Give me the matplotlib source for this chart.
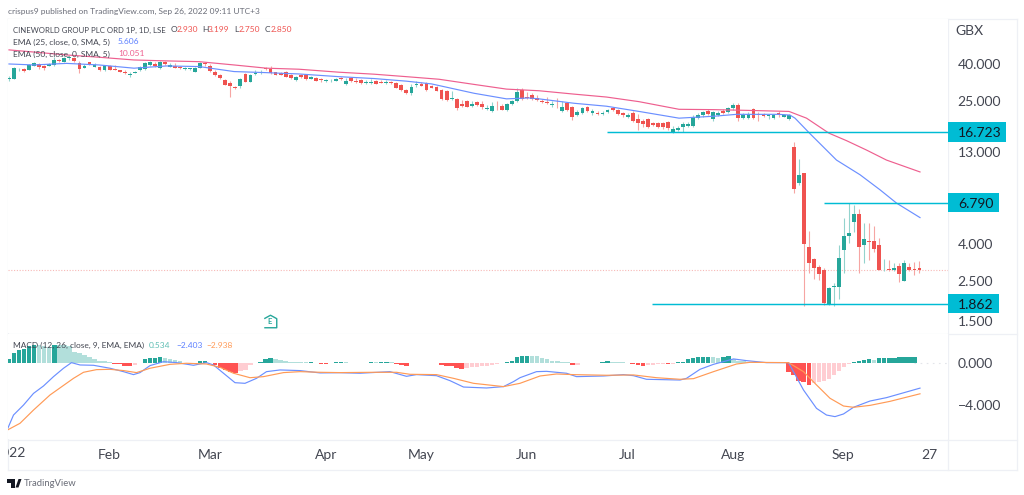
"""Cineworld daily candles with EMA and MACD panes, TradingView style."""

from __future__ import annotations

import matplotlib

matplotlib.use("Agg")
import matplotlib.pyplot as plt
import numpy as np
from matplotlib.lines import Line2D
from matplotlib.patches import Polygon, Rectangle
from matplotlib.ticker import NullLocator
from matplotlib.transforms import Bbox

W, H = 1024, 495

opens = [
    33.0, 33.1, 37.3, 37.3, 37.1, 39.2, 40.0, 39.2, 39.2, 39.5, 42.1, 41.2, 43.0, 43.0, 40.7, 38.0,
    40.8, 38.7, 38.7, 36.8, 39.0, 37.6, 36.8, 36.3, 34.8, 35.8, 36.8, 37.4, 39.4, 39.8, 38.0, 41.0,
    38.7, 39.0, 38.5, 37.4, 37.4, 36.3, 38.0, 40.3, 39.2, 36.3, 34.8, 32.6, 31.4, 29.9, 30.1, 35.2,
    31.9, 35.1, 35.5, 38.0, 37.6, 36.0, 35.8, 36.3, 34.6, 32.6, 34.8, 34.6, 33.2, 33.3, 32.9, 32.3,
    32.5, 32.2,
    33.3, 31.0, 33.6, 32.3, 32.6, 31.3, 31.3, 32.2, 31.8, 31.4, 31.7, 31.4, 30.5, 28.7, 27.6, 30.5,
    30.8, 31.2, 30.1, 29.7, 28.6, 28.3, 25.4, 25.5, 23.9, 25.0, 23.3, 24.6, 23.9, 22.5, 21.9, 22.6,
    23.5, 22.3, 24.0, 25.0, 28.7, 26.1, 26.8, 25.8, 25.0, 24.7, 23.8, 23.2, 21.8, 24.2, 23.0, 20.9,
    21.4, 23.0, 21.4, 21.3, 21.0, 21.6, 22.8, 22.3, 21.4, 20.3, 21.5, 19.7, 19.2, 19.7, 18.9, 18.7,
    18.7, 19.0, 16.8, 17.2,
    17.8, 18.0, 18.0, 20.0, 20.7, 21.8, 19.7, 20.9, 22.0, 21.7, 22.7, 23.7, 20.1, 20.1, 22.4, 21.1,
    21.0, 20.5, 20.1, 21.5, 20.4, 19.9,
    13.8, 8.77, 9.88, 3.85, 3.30, 2.97, 2.87, 1.86, 2.32, 2.32, 3.71, 4.45, 5.33, 5.9, 3.93, 4.14,
    4.14, 3.93, 2.85, 2.89, 2.86, 3.03, 2.50, 2.97, 2.89, 2.93,
]
highs = [
    34.2, 38.5, 38.2, 38.2, 39.9, 40.9, 40.5, 39.6, 40.4, 43.9, 42.5, 43.6, 44.5, 43.9, 41.4, 40.0,
    41.2, 40.3, 39.2, 39.2, 39.5, 39.4, 37.1, 36.8, 36.3, 36.6, 39.0, 41.0, 41.7, 40.8, 41.6, 41.4,
    40.5, 40.7, 39.0, 38.5, 38.2, 38.3, 41.2, 41.0, 40.0, 36.8, 35.2, 33.0, 32.0, 30.3, 33.6, 35.6,
    35.2, 37.0, 37.0, 38.5, 38.8, 36.3, 36.3, 36.6, 35.0, 34.2, 35.1, 35.0, 34.4, 33.8, 33.3, 33.0,
    33.2, 33.5,
    34.0, 33.5, 34.0, 33.4, 32.8, 32.4, 32.8, 32.4, 32.4, 32.6, 32.0, 31.7, 31.0, 29.0, 30.8, 32.0,
    31.8, 31.6, 30.4, 30.0, 29.0, 28.6, 28.2, 26.0, 25.2, 25.3, 24.9, 25.0, 25.0, 23.8, 24.6, 25.0,
    24.0, 24.3, 25.1, 29.3, 29.3, 28.0, 27.5, 27.0, 25.6, 26.2, 24.8, 26.0, 25.0, 24.5, 23.3, 22.2,
    23.1, 23.3, 22.5, 22.0, 22.0, 22.5, 23.0, 22.6, 21.7, 21.5, 21.8, 21.0, 19.8, 20.0, 19.1, 19.0,
    19.0, 19.2, 18.0, 18.0,
    19.0, 19.0, 20.7, 21.3, 22.0, 22.6, 21.9, 21.8, 22.4, 23.0, 24.2, 24.3, 21.3, 21.6, 22.8, 21.6,
    21.3, 21.2, 21.2, 21.8, 21.2, 21.1,
    14.7, 11.8, 9.95, 4.75, 3.33, 3.06, 2.93, 2.32, 2.44, 3.95, 5.6, 6.79, 6.59, 6.24, 5.21, 5.21,
    5.04, 4.3, 3.29, 3.26, 3.12, 3.12, 3.26, 3.12, 3.17, 3.199,
]
lows = [
    32.2, 32.8, 36.6, 36.0, 36.9, 39.0, 37.5, 37.2, 39.0, 39.1, 41.2, 40.9, 42.3, 41.2, 35.5, 37.8,
    39.5, 38.4, 36.4, 36.6, 36.8, 36.8, 36.0, 35.2, 33.7, 35.5, 36.5, 37.1, 39.0, 38.6, 37.6, 39.5,
    38.3, 37.8, 37.6, 37.0, 37.0, 36.0, 37.8, 39.2, 36.2, 34.5, 33.0, 30.5, 26.1, 29.2, 29.6, 31.6,
    31.6, 34.7, 35.2, 37.0, 35.2, 34.6, 34.6, 33.7, 33.0, 32.3, 33.4, 32.6, 33.0, 32.0, 31.9, 31.9,
    31.9, 32.0,
    32.7, 30.7, 31.8, 31.3, 31.1, 30.9, 31.0, 30.9, 31.2, 31.0, 31.0, 29.4, 28.4, 27.3, 27.0, 29.8,
    30.0, 28.4, 29.3, 28.2, 25.3, 25.0, 25.2, 22.3, 23.0, 23.0, 23.1, 23.4, 22.5, 22.3, 21.6, 22.2,
    22.1, 22.0, 23.8, 24.7, 25.3, 25.4, 25.2, 25.0, 24.2, 24.0, 23.2, 22.7, 21.6, 22.0, 19.6, 20.6,
    21.0, 21.6, 20.9, 20.8, 20.8, 21.3, 21.9, 20.8, 20.2, 20.0, 19.1, 17.1, 17.8, 17.6, 18.2, 17.7,
    17.4, 17.2, 16.6, 16.9,
    16.7, 17.8, 17.8, 19.8, 20.3, 20.7, 19.4, 20.5, 21.2, 21.4, 22.3, 19.3, 19.9, 19.8, 19.9, 19.2,
    20.3, 19.8, 19.9, 20.4, 20.2, 19.5,
    7.65, 8.5, 1.80, 2.77, 2.56, 2.53, 1.83, 1.83, 1.80, 1.97, 2.77, 4.07, 4.69, 2.75, 3.12, 3.26,
    3.63, 2.85, 2.83, 2.83, 2.83, 2.47, 2.48, 2.84, 2.70, 2.75,
]
closes = [
    33.3, 37.9, 37.6, 36.6, 39.5, 40.3, 38.7, 38.2, 40.0, 42.1, 41.6, 43.0, 43.9, 41.6, 37.6, 39.2,
    40.0, 39.5, 36.8, 38.9, 37.1, 37.1, 36.3, 35.5, 35.2, 36.3, 38.7, 40.7, 41.2, 39.2, 40.8, 40.0,
    39.5, 38.0, 38.0, 37.8, 37.8, 37.9, 40.7, 39.8, 36.6, 34.9, 33.3, 30.7, 30.0, 29.5, 33.0, 31.9,
    34.8, 35.5, 36.0, 37.4, 35.5, 34.9, 34.9, 34.0, 33.3, 33.9, 33.7, 32.9, 33.9, 32.2, 32.5, 32.6,
    32.7, 33.2,
    32.9, 32.2, 32.0, 31.9, 31.3, 31.7, 31.9, 31.1, 31.4, 31.7, 31.3, 29.6, 28.8, 27.6, 29.8, 31.0,
    30.3, 28.6, 29.6, 28.4, 25.7, 25.2, 25.9, 22.8, 23.3, 23.2, 23.9, 23.7, 23.0, 22.8, 23.5, 22.4,
    22.3, 24.0, 24.8, 28.1, 25.5, 25.8, 25.5, 25.3, 24.6, 24.3, 23.9, 23.0, 23.2, 22.3, 20.4, 21.6,
    22.7, 21.8, 22.0, 21.0, 21.5, 22.1, 22.1, 21.0, 20.8, 20.9, 19.4, 18.8, 18.6, 17.8, 18.4, 17.9,
    17.9, 17.6, 17.3, 17.6,
    18.6, 18.5, 20.3, 20.9, 21.7, 21.0, 21.6, 21.4, 21.5, 22.7, 23.7, 20.0, 20.9, 21.2, 20.1, 20.8,
    20.6, 20.7, 20.7, 20.7, 20.7, 20.7,
    8.12, 9.68, 4.0, 3.13, 2.96, 2.73, 1.89, 2.27, 2.34, 3.36, 4.43, 4.61, 5.87, 3.84, 4.25, 4.09,
    3.77, 2.86, 2.87, 2.87, 2.95, 2.72, 3.12, 2.86, 2.86, 2.85,
]

# x positions below are in 5 px "sessions", bars step a little wider than that
ema25_x = [0, 4.9, 11.5, 18, 25, 31.5, 38, 45, 51.5, 58, 66, 73, 79.5, 84.5, 93, 99.5, 104, 106, 113,
           119.5, 126, 134, 141, 145.5, 154, 156.2, 157.2, 160.2, 165.5, 170.2, 174.2, 177.5, 182.2]
ema25 = [40.0, 39.5, 40.3, 39.5, 37.9, 39.0, 38.7, 36.3, 35.8, 35.2, 34.0, 33.2, 32.1, 31.0, 27.5, 25.6,
         25.9, 25.6, 24.2, 23.3, 21.8, 20.0, 20.5, 21.0, 21.0, 20.8, 20.0, 16.4, 11.7, 9.7, 8.0, 6.75, 5.606]
ema50_x = [0, 4.9, 11.5, 18, 25, 31.5, 38, 45, 51.5, 58, 66, 73, 79.5, 86, 93, 99.5, 106, 113, 119.5,
           126, 134, 141, 147.5, 156, 159.5, 164, 167.5, 171.5, 175.5, 182.2]
ema50 = [47.9, 46.6, 44.9, 43.6, 42.1, 41.6, 41.2, 39.5, 37.9, 37.4, 36.0, 35.1, 34.0, 32.9, 30.8, 29.0,
         28.4, 27.2, 26.2, 24.7, 22.4, 22.3, 22.1, 21.8, 20.0, 16.5, 15.0, 13.3, 11.7, 10.051]

macd_hist = [
    0.31, 0.88, 1.19, 1.29, 1.57, 1.67, 1.63, 1.57, 1.5, 1.67, 1.66, 1.62, 1.6, 1.0, 0.88, 0.72, 0.57,
    0.35, 0.19, 0.16, 0.09, -0.1, -0.16, -0.28, -0.35, -0.25, -0.05, 0.3, 0.45, 0.46, 0.5, 0.45, 0.3,
    0.25, 0.12, -0.05, -0.08, -0.1, 0.12, 0.17, -0.05, -0.25, -0.5, -0.7, -0.9, -1.0, -0.75, -0.65,
    -0.25, -0.05, 0.1, 0.35, 0.42, 0.35, 0.28, 0.2, 0.1, 0.08, 0.05, 0.02, 0.05, -0.06, -0.12, -0.15,
    -0.05, 0.03,
    0.05, 0.03, -0.02, -0.06, -0.06, -0.03, 0.06, 0.05, 0.1, 0.1, 0.06, -0.1, -0.2, -0.3, -0.05, -0.03,
    -0.06, -0.08, -0.03, -0.06, -0.2, -0.3, -0.35, -0.55, -0.6, -0.55, -0.45, -0.4, -0.35, -0.3, -0.25,
    -0.15, -0.08, 0.08, 0.2, 0.55, 0.6, 0.65, 0.62, 0.6, 0.45, 0.35, 0.2, 0.15, 0.08, 0.03, -0.2, -0.2,
    -0.03, -0.03, -0.08, -0.03, 0.05, 0.12, 0.07, 0.05, 0.03, -0.06, -0.12, -0.18, -0.3, -0.25, -0.2,
    -0.15, -0.1, -0.12, -0.1,
    0.05, 0.1, 0.3, 0.4, 0.5, 0.55, 0.56, 0.5, 0.42, 0.5, 0.6, 0.3, 0.2, 0.15, 0.08, 0.07, 0.05, 0.03,
    0.03, 0.03, 0.03, 0.03, -0.85, -1.2, -1.7, -1.8, -2.1, -1.95, -1.85, -1.7, -1.5, -1.2, -0.8, -0.4,
    -0.15, 0.06, 0.17, 0.23, 0.3, 0.27, 0.42, 0.44, 0.46, 0.48, 0.5, 0.52, 0.53, 0.534,
]
macd_x = [-0.3, 0.9, 2.9, 4.9, 6.9, 8.9, 10.9, 12.5, 14.2, 16.9, 20.2, 22.9, 24.9, 26.2, 28.2, 30.9, 33.5,
          36.9, 39.5, 40.9, 42.9, 45.2, 47.2, 49.5, 51.5, 54.2, 58.2, 62.2, 66.2, 70.2, 76.2, 79.5, 81.5,
          85.5, 88.2, 90.9, 95.5, 98.9, 100.9, 102.2, 105.5, 107.5, 111.5, 113.5, 118.9, 122.9, 124.9,
          127.5, 134.2, 135.5, 138.2, 140.9, 144.9, 147.5, 151.5, 155.9, 156.9, 158.9, 161.5, 163.5,
          165.2, 166.9, 168.9, 172.2, 175.5, 182.2]
macd_line = [-6.26, -4.94, -4.0, -2.9, -2.2, -1.32, -0.53, 0.0, -0.22, -0.25, -0.53, -0.85, -1.13, -0.94,
             -0.28, 0.09, 0.0, -0.25, 0.0, -0.22, -1.0, -1.89, -1.95, -1.48, -0.85, -0.69, -0.75, -0.97,
             -0.95, -1.0, -0.85, -1.29, -1.13, -1.23, -1.7, -2.3, -2.39, -2.26, -1.79, -1.42, -0.85, -0.82,
             -1.0, -1.32, -1.26, -1.13, -1.23, -1.57, -1.64, -1.48, -0.63, -0.16, 0.35, 0.19, 0.0, 0.0,
             -0.85, -2.58, -4.31, -4.94, -5.09, -4.84, -4.21, -3.62, -3.3, -2.403]
signal_x = [-0.3, 2.2, 4.9, 8.2, 12.9, 14.9, 17.5, 20.2, 22.9, 25.5, 28.2, 32.2, 35.5, 39.5, 42.2, 44.9, 48.2,
            50.9, 54.9, 58.2, 62.2, 66.2, 72.9, 77.5, 80.2, 85.5, 88.9, 92.9, 98.9, 102.2, 106.2, 109.5,
            112.9, 119.5, 124.9, 129.5, 134.2, 136.9, 140.9, 145.5, 148.2, 155.9, 158.9, 161.5, 164.2,
            166.9, 168.9, 172.2, 176.2, 182.2]
signal_line = [-6.35, -5.72, -4.47, -3.05, -1.48, -0.91, -0.66, -0.63, -0.75, -0.94, -0.53, -0.16, -0.06,
               -0.13, -0.44, -1.0, -1.42, -1.32, -0.94, -0.85, -0.91, -0.94, -0.91, -0.91, -1.1, -1.13,
               -1.48, -1.95, -2.26, -1.95, -1.26, -1.07, -1.13, -1.19, -1.16, -1.42, -1.57, -1.51, -0.85,
               -0.13, 0.03, 0.0, -0.85, -2.1, -3.36, -4.09, -4.21, -4.03, -3.65, -2.938]

price_ticks = [40, 25, 13, 4, 2.5, 1.5]
macd_ticks = [0, -4]
month_labels = ["Feb", "Mar", "Apr", "May", "Jun", "Jul", "Aug", "Sep", "27"]
month_pos = [20.1, 40.2, 63.4, 82.5, 103.5, 123.6, 144.8, 166.8, 184]
level_values = [16.723, 6.79, 1.862]
level_starts = [119.6, 163, 128.6]
level_box_widths = [58, 51, 51]

GREEN, RED = "#26a69a", "#ef5350"
CYAN = "#00bcd4"
TEXT = "#434651"
BORDER = "#eef0f5"
BAR_STEP = 5.03 / 5
AXIS_SIZE = 10
SMALL_SIZE = 6.0

plt.rcParams["font.family"] = ["Lato", "DejaVu Sans"]

fig = plt.figure(figsize=(W / 100, H / 100), dpi=100, facecolor="white")


def px_axes(left, top, right, bottom):
    return fig.add_axes([left / W, 1 - bottom / H, (right - left) / W, (bottom - top) / H])


def fig_text(x, y, s, color=TEXT, size=SMALL_SIZE, **kw):
    fig.text(x / W, 1 - y / H, s, color=color, fontsize=size, va="center", **kw)


def plot_price(ax):
    x = np.arange(len(closes)) * BAR_STEP
    o, h, l, c = map(np.array, (opens, highs, lows, closes))
    up = c >= o
    wick_colors = np.where(up, "#93d3cd", "#f6a5a3")
    ax.vlines(x, l, h, colors=wick_colors, lw=0.8, zorder=2)
    ax.bar(x, np.abs(c - o), bottom=np.minimum(o, c), width=0.76,
           color=np.where(up, GREEN, RED), lw=0, zorder=3)
    ax.plot(ema25_x, ema25, color="#6b8fff", lw=0.85, zorder=4)
    ax.plot(ema50_x, ema50, color="#ee5f8f", lw=0.85, zorder=4)
    ax.axhline(closes[-1], color="#f7b9b7", lw=0.8, ls=(0, (1, 1.5)), zorder=1)
    ax.set_yscale("log")
    ax.set_xlim(-0.2, 187.8)
    ax.set_ylim(1.281, 71.1)
    ax.yaxis.tick_right()
    ax.yaxis.set_minor_locator(NullLocator())
    ax.set_yticks(price_ticks, [f"{v:.3f}" for v in price_ticks])
    ax.tick_params(axis="y", length=0, pad=7, labelsize=AXIS_SIZE, labelcolor=TEXT)
    ax.set_xticks([])
    for side in ax.spines.values():
        side.set_visible(False)
    for value, start in zip(level_values, level_starts):
        ax.hlines(value, start, 187.8, color=CYAN, lw=1.05, zorder=5)
    # earnings flag
    ax.plot([52.2], [1.5], marker=[(-1, -1), (1, -1), (1, 0.45), (0, 1), (-1, 0.45)], ms=9,
            mfc="white", mec=GREEN, mew=1.0, ls="none", zorder=6)
    ax.text(52.2, 1.485, "E", color=GREEN, fontsize=5.5, ha="center", va="center", weight="bold", zorder=7)


def plot_macd(ax):
    x = np.arange(len(macd_hist)) * BAR_STEP
    hist = np.array(macd_hist)
    prev = np.r_[hist[0] - 1, hist[:-1]]
    colors = np.where(hist >= 0, np.where(hist >= prev, GREEN, "#b2dfdb"),
                      np.where(hist < prev, "#ff5252", "#ffcdd2"))
    ax.bar(x, hist, width=0.9, color=colors, lw=0, zorder=2)
    ax.plot(macd_x, macd_line, color="#6b8fff", lw=0.85, zorder=3)
    ax.plot(signal_x, signal_line, color="#ff9a56", lw=0.85, zorder=4)
    ax.hlines(0, x[-1], 187.8, color="#e3e5ea", lw=0.8, ls=(0, (1.5, 4)))
    ax.set_xlim(-0.2, 187.8)
    ax.set_ylim(-7.2, 2.7)
    ax.yaxis.tick_right()
    ax.set_yticks(macd_ticks, ["0.000", "\u22124.000"])
    ax.tick_params(axis="y", length=0, pad=7, labelsize=AXIS_SIZE, labelcolor=TEXT)
    ax.set_xticks(month_pos, month_labels)
    ax.tick_params(axis="x", length=0, pad=7, labelsize=AXIS_SIZE, labelcolor=TEXT)
    for side in ax.spines.values():
        side.set_visible(False)
    year = ax.text(3.3, -0.13, "2022", transform=ax.get_xaxis_transform(), color=TEXT, fontsize=AXIS_SIZE,
                   ha="right", va="center", clip_on=True)
    year.set_clip_box(Bbox([[8, 0], [W, H]]))


def level_labels(ax):
    fig.canvas.draw()
    for value, box_w in zip(level_values, level_box_widths):
        y = ax.transData.transform((0, value))[1]
        fig.add_artist(Rectangle((948, y - 9.7), box_w, 19.4, transform=None, color=CYAN, lw=0, zorder=8))
        fig.text(958 / W, y / H, f"{value:.3f}", color="#131722", fontsize=AXIS_SIZE,
                 va="center_baseline", zorder=9)


def chrome():
    for xs, ys in [
        ((8, 1017), (19, 19)), ((8, 1017), (333.5, 333.5)), ((8, 1017), (439.5, 439.5)),
        ((8, 1017), (470, 470)), ((8, 8), (19, 470)), ((948, 948), (19, 470)), ((1017, 1017), (19, 470)),
    ]:
        fig.add_artist(Line2D([x / W for x in xs], [1 - y / H for y in ys], color=BORDER, lw=0.9, zorder=0))

    fig_text(8, 11, "crispus9 published on TradingView.com, Sep 26, 2022 09:11 UTC+3", color="#6a6d78")
    fig_text(13, 30, "CINEWORLD GROUP PLC ORD 1P, 1D, LSE", size=5.6)
    for lx, vx, letter, val in [(171, 177, "O", "2.930"), (202, 208, "H", "3.199"),
                                (234, 239, "L", "2.750"), (265, 271, "C", "2.850")]:
        fig_text(lx, 30, letter)
        fig_text(vx, 30, val, color=RED)
    fig_text(13, 42, "EMA (25, close, 0, SMA, 5)")
    fig_text(118, 42, "5.606", color="#5b7fff")
    fig_text(13, 54, "EMA (50, close, 0, SMA, 5)")
    fig_text(118, 54, "10.051", color="#ee5f8f")
    fig_text(13, 345, "MACD (12, 26, close, 9, EMA, EMA)")
    fig_text(149, 345, "0.534", color="#5dbdb3")
    fig_text(176, 345, "\u22122.403", color="#5b7fff")
    fig_text(206, 345, "\u22122.938", color="#ff9a56")
    fig_text(955, 31, "GBX", size=AXIS_SIZE)

    # TradingView logo
    logo_t = [(7, 479), (14.5, 479), (14.5, 487.5), (11, 487.5), (11, 482.5), (7, 482.5)]
    logo_v = [(15.5, 487.5), (18.5, 479), (21.5, 479), (18.5, 487.5)]
    for shape in (logo_t, logo_v):
        fig.add_artist(Polygon([(x / W, 1 - y / H) for x, y in shape], color="#131722", lw=0,
                               transform=fig.transFigure))
    fig_text(24, 483, "TradingView", color="#6a6d78", size=6.8)


def main():
    ax_price = px_axes(8, 19, 948, 333)
    ax_macd = px_axes(8, 334, 948, 439)
    plot_price(ax_price)
    plot_macd(ax_macd)
    chrome()
    level_labels(ax_price)
    fig.savefig("out.png", dpi=100)


if __name__ == "__main__":
    main()
